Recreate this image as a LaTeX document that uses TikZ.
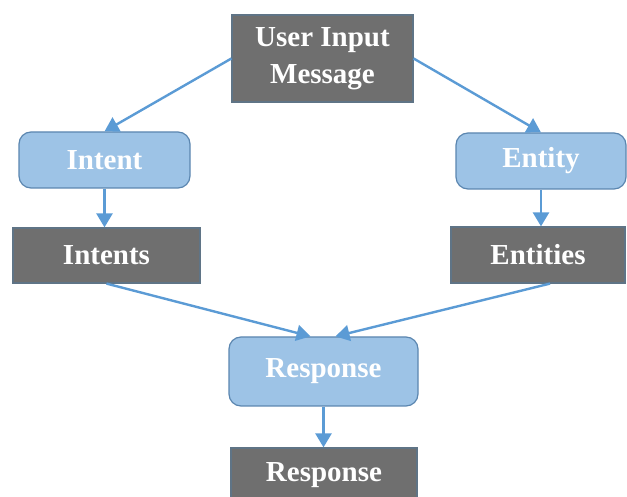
\documentclass[tikz,border=0pt]{standalone}
\usepackage{fontspec}
\setmainfont{Liberation Serif}
\usetikzlibrary{arrows.meta}

\definecolor{darkbox}{HTML}{6F6F6F}
\definecolor{darkedge}{HTML}{5F7486}
\definecolor{lightbox}{HTML}{9DC3E6}
\definecolor{lightedge}{HTML}{5B86B0}
\definecolor{flow}{HTML}{5B9BD5}

\begin{document}
\begin{tikzpicture}[x=0.5pt,y=-0.5pt,
    grey box/.style={draw=darkedge,fill=darkbox,text=white,line width=0.6pt,
        font=\fontsize{14.5}{18.5}\selectfont\bfseries,align=center,inner sep=0pt},
    blue box/.style={draw=lightedge,fill=lightbox,text=white,line width=0.6pt,
        rounded corners=6pt,font=\fontsize{14.5}{18.5}\selectfont\bfseries,inner sep=0pt},
    flow arrow/.style={draw=flow,line width=1.2pt,-{Triangle[length=7pt,width=8pt]}}]

% Page frame
\useasboundingbox (0,0) rectangle (627,497);
\clip (0,0) rectangle (627,497);

% Incoming message
\node[grey box,minimum width=90.5pt,minimum height=43.5pt] (msg) at (322.5,58.5) {User Input\\Message};

% Intent branch
\node[blue box,minimum width=85.5pt,minimum height=28pt] (intent) at (104.5,160) {Intent};
\node[grey box,minimum width=93.5pt,minimum height=27.5pt] (intents) at (106.5,255.5) {Intents};

% Entity branch
\node[blue box,minimum width=85pt,minimum height=28pt] (entity) at (541,161) {Entity};
\node[grey box,minimum width=87pt,minimum height=28pt] (entities) at (538,255) {Entities};

% Response
\node[blue box,minimum width=94.5pt,minimum height=34.5pt] (resp) at (323.5,371.5) {Response};
\node[grey box,minimum width=93pt,minimum height=27.5pt] (answer) at (324,475.5) {Response};

% Arrows
\draw[flow arrow] (msg.west) -- (intent.north);
\draw[flow arrow] (msg.east) -- (entity.north);
\draw[flow arrow] (intent) -- (intent |- intents.north);
\draw[flow arrow] (entity) -- (entity |- entities.north);
\draw[flow arrow] (intents.south) -- ([xshift=-6.5pt]resp.north);
\draw[flow arrow] ([xshift=6pt]entities.south) -- ([xshift=6pt]resp.north);
\draw[flow arrow] (resp) -- (resp |- answer.north);

\end{tikzpicture}
\end{document}
